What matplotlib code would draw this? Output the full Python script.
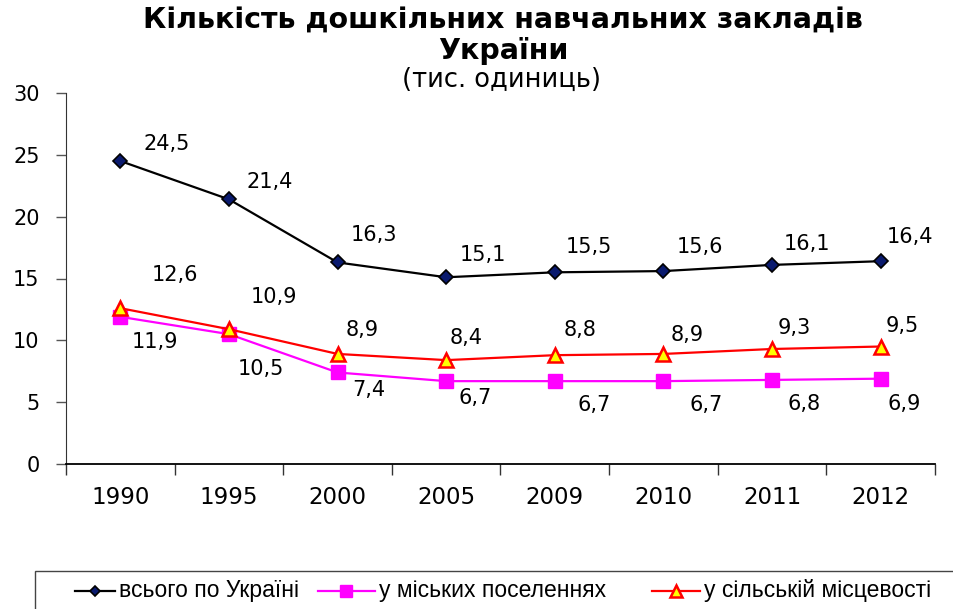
import matplotlib
matplotlib.use("Agg")
import matplotlib.pyplot as plt
from matplotlib.ticker import FixedLocator, NullFormatter
from matplotlib.lines import Line2D
from matplotlib.patches import Rectangle

years = ["1990", "1995", "2000", "2005", "2009", "2010", "2011", "2012"]
total = [24.5, 21.4, 16.3, 15.1, 15.5, 15.6, 16.1, 16.4]
urban = [11.9, 10.5, 7.4, 6.7, 6.7, 6.7, 6.8, 6.9]
rural = [12.6, 10.9, 8.9, 8.4, 8.8, 8.9, 9.3, 9.5]
series_names = ["всього по Україні", "у міських поселеннях", "у сільській місцевості"]

# label offsets in pixels (style only)
off_total = [(46, 17), (41, 17), (36, 27), (37, 22), (34, 25), (37, 24), (35, 21), (29, 24)]
off_rural = [(55, 33), (45, 32), (25, 24), (20, 22), (25, 25), (24, 19), (22, 21), (22, 21)]
off_urban = [(35, -25), (32, -35), (31, -18), (29, -17), (39, -24), (43, -24), (32, -24), (24, -25)]

W, H = 954, 609
fig = plt.figure(figsize=(W / 100, H / 100), dpi=100)
ax = fig.add_axes([66 / W, 1 - 464 / H, (935 - 66) / W, (464 - 93) / H])

x = list(range(len(years)))
styles = [
    dict(color="black", lw=1.6, marker="D", ms=7, mfc="#0a1a6e", mec="black", mew=1.2),
    dict(color="#ff00ff", lw=1.6, marker="s", ms=10, mfc="#ff00ff", mec="#ff00ff", mew=1.0),
    dict(color="#ff0000", lw=1.6, marker="^", ms=10, mfc="#ffff00", mec="#ff0000", mew=1.8),
]
ax.plot(x, total, zorder=3, **styles[0])
ax.plot(x, urban, zorder=3, **styles[1])
ax.plot(x, rural, zorder=4, **styles[2])

lab_font = dict(family=["DejaVu Sans"], fontsize=15, color="black")
for vals, offs in ((total, off_total), (rural, off_rural), (urban, off_urban)):
    for xi, v, (dx, dy) in zip(x, vals, offs):
        ax.annotate(f"{v:.1f}".replace(".", ","), (xi, v), xytext=(dx, dy),
                    textcoords="offset pixels", ha="center", va="center", **lab_font)

ax.set_xlim(-0.5, len(years) - 0.5)
ax.set_ylim(0, 30)
ax.set_yticks([0, 5, 10, 15, 20, 25, 30])
ax.set_yticklabels(["0", "5", "10", "15", "20", "25", "30"], family=["DejaVu Sans"], fontsize=15)
ax.tick_params(axis="y", length=7, width=1, pad=12, color="#555555")
ax.set_xticks(x)
ax.set_xticklabels(years, family=["DejaVu Sans"], fontsize=16.5)
ax.tick_params(axis="x", which="major", length=0, pad=16)
ax.xaxis.set_minor_locator(FixedLocator([i + 0.5 for i in range(-1, len(years))]))
ax.xaxis.set_minor_formatter(NullFormatter())
ax.tick_params(axis="x", which="minor", length=8, width=1, color="#333333", direction="out")

for s in ("top", "right"):
    ax.spines[s].set_visible(False)
ax.spines["left"].set_color("#333333")
ax.spines["bottom"].set_color("black")
ax.spines["bottom"].set_linewidth(1.3)

fig.text(503 / W, 1 - 21 / H, "Кількість дошкільних навчальних закладів", ha="center", va="center",
         fontsize=20.5, fontweight="bold", family=["DejaVu Sans"])
fig.text(503 / W, 1 - 51 / H, "України", ha="center", va="center",
         fontsize=20.5, fontweight="bold", family=["DejaVu Sans"])
fig.text(502 / W, 1 - 80 / H, "(тис. одиниць)", ha="center", va="center",
         fontsize=18.5, family=["DejaVu Sans"])

# legend frame and entries
fig.patches.append(Rectangle((35 / W, 1 - 640 / H), (960 - 35) / W, (640 - 571) / H,
                             transform=fig.transFigure, fill=False, edgecolor="#444444", lw=1.0))
starts = [75, 318, 652]
hlens = [40, 57, 48]
for name, st, x0, hl in zip(series_names, styles, starts, hlens):
    yy = 1 - 591 / H
    fig.add_artist(Line2D([x0 / W, (x0 + hl) / W], [yy, yy], transform=fig.transFigure,
                          color=st["color"], lw=st["lw"]))
    ms = st["ms"] * 0.8
    fig.add_artist(Line2D([(x0 + hl / 2) / W], [yy], transform=fig.transFigure, marker=st["marker"],
                          ms=ms, mfc=st["mfc"], mec=st["mec"], mew=st["mew"], ls="none"))
    fig.text((x0 + hl + 4) / W, yy, name, ha="left", va="center", fontsize=16.5,
             family=["Liberation Sans"])

fig.savefig("out.png", dpi=100)
